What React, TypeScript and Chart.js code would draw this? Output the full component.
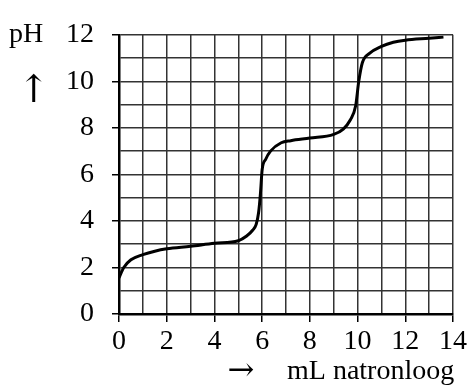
import React, { useEffect, useRef } from "react";
import { Chart, registerables } from "chart.js";

Chart.register(...registerables);

const volumeML = [0, 0.2, 0.5, 1, 1.5, 2, 3, 4, 5, 5.35, 5.6, 5.75, 5.85, 5.93, 6.0, 6.15, 6.35, 6.8, 7.2, 8, 9, 9.4, 9.7, 9.92, 10.05, 10.2, 10.5, 11, 11.5, 12, 13, 13.6];
const phValues = [1.55, 2.0, 2.33, 2.55, 2.7, 2.8, 2.91, 3.04, 3.15, 3.35, 3.6, 3.85, 4.35, 5.2, 6.2, 6.65, 7.0, 7.36, 7.45, 7.56, 7.72, 7.95, 8.35, 8.95, 10.0, 10.8, 11.2, 11.5, 11.68, 11.77, 11.85, 11.9];
const xTickValues = [0, 2, 4, 6, 8, 10, 12, 14];
const yTickValues = [0, 2, 4, 6, 8, 10, 12];
const yTitle = "pH";
const yArrow = "\u2191";
const xArrow = "\u2192";
const xTitle = "mL natronloog";

const FONT = "'Liberation Serif', 'Times New Roman', serif";
const ARROW_FONT = "'DejaVu Serif', 'DejaVu Sans', serif";

const labelsPlugin = {
  id: "axisTexts",
  afterDraw(chart: any) {
    const ctx = chart.ctx;
    ctx.save();
    ctx.fillStyle = "#000";
    ctx.font = `28px ${FONT}`;
    ctx.textBaseline = "alphabetic";
    ctx.textAlign = "left";
    ctx.fillText(yTitle, 9, 42);
    ctx.fillText(xTitle, 287, 379);
    ctx.textAlign = "center";
    ctx.textBaseline = "middle";
    ctx.font = `38px ${ARROW_FONT}`;
    ctx.fillText(yArrow, 34, 92);
    ctx.font = `32px ${ARROW_FONT}`;
    ctx.fillText(xArrow, 241, 372);
    ctx.restore();
  },
};

export default function App() {
  const ref = useRef<HTMLCanvasElement>(null);
  useEffect(() => {
    if (!ref.current) return;
    const chart = new Chart(ref.current, {
      type: "line",
      data: {
        datasets: [
          {
            data: volumeML.map((x, i) => ({ x, y: phValues[i] })),
            borderColor: "#000",
            borderWidth: 3,
            pointRadius: 0,
            fill: false,
            cubicInterpolationMode: "monotone",
          },
        ],
      },
      options: {
        animation: false,
        responsive: false,
        maintainAspectRatio: false,
        layout: { padding: { top: 25, right: 15, left: 0, bottom: 0 } },
        plugins: { legend: { display: false }, tooltip: { enabled: false } },
        scales: {
          x: {
            type: "linear",
            min: 0,
            max: 14,
            afterFit: (s: any) => {
              s.height = 73;
            },
            ticks: {
              stepSize: 1,
              autoSkip: false,
              maxRotation: 0,
              padding: 3,
              color: "#000",
              font: { family: FONT, size: 28 },
              callback: (v: any) => (xTickValues.includes(Number(v)) ? String(v) : ""),
            },
            grid: {
              color: "#333",
              lineWidth: 1.5,
              tickLength: 8,
              tickColor: (c: any) => (xTickValues.includes(c.tick?.value) ? "#000" : "rgba(0,0,0,0)"),
            },
            border: { display: true, color: "#000", width: 2.5 },
          },
          y: {
            type: "linear",
            min: 0,
            max: 12,
            afterFit: (s: any) => {
              s.width = 119;
            },
            ticks: {
              stepSize: 1,
              autoSkip: false,
              padding: 18,
              color: "#000",
              font: { family: FONT, size: 28 },
              callback: (v: any) => (yTickValues.includes(Number(v)) ? String(v) : ""),
            },
            grid: {
              color: "#333",
              lineWidth: 1.5,
              tickLength: 7,
              tickColor: (c: any) => (yTickValues.includes(c.tick?.value) ? "#000" : "rgba(0,0,0,0)"),
            },
            border: { display: true, color: "#000", width: 2.5 },
          },
        },
      },
      plugins: [labelsPlugin],
    } as any);
    return () => chart.destroy();
  }, []);
  return (
    <div style={{ position: "fixed", left: 0, top: 0, width: 470, height: 387, background: "#fff" }}>
      <canvas ref={ref} width={470} height={387} style={{ width: 470, height: 387, display: "block" }} />
    </div>
  );
}
